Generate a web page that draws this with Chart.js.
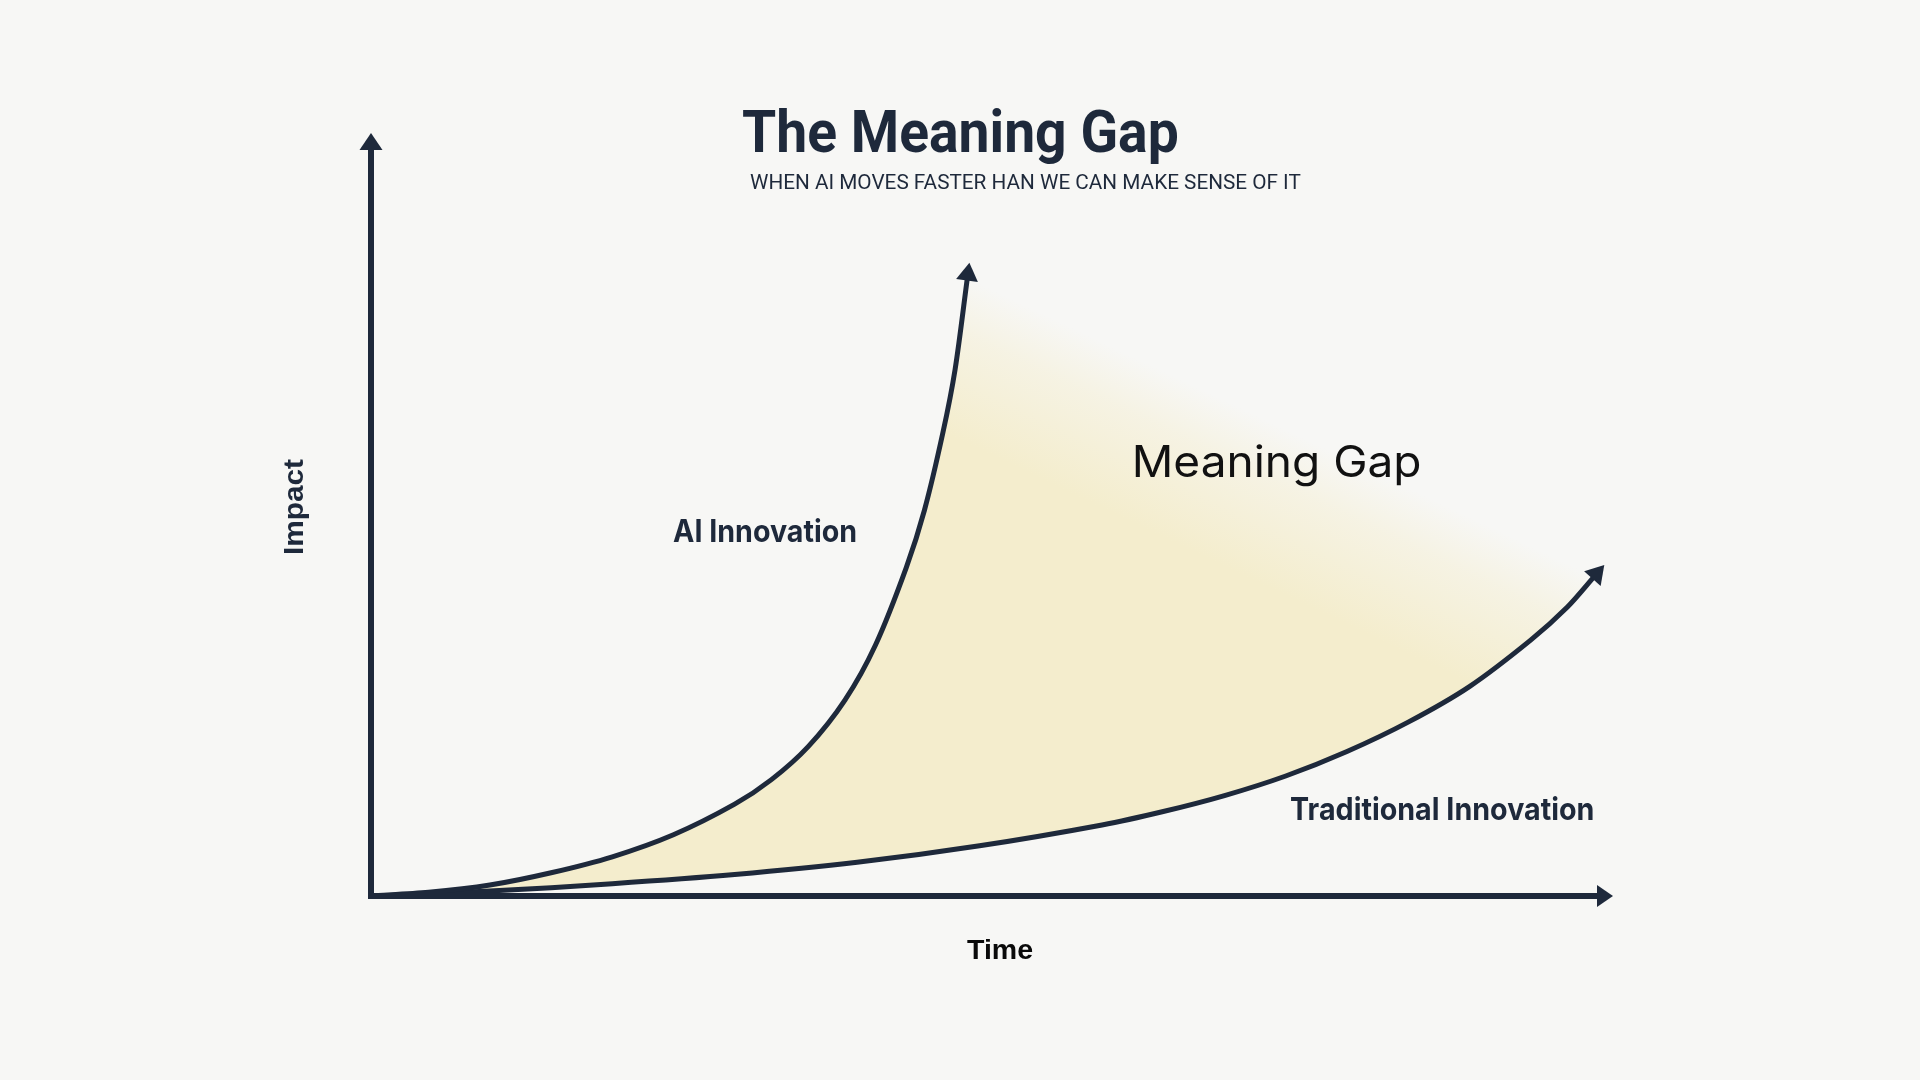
<!DOCTYPE html>
<html>
<head>
<meta charset="utf-8">
<title>The Meaning Gap</title>
<script src="https://cdn.jsdelivr.net/npm/chart.js@4.4.1/dist/chart.umd.min.js"></script>
<style>
  html, body { margin: 0; padding: 0; background: #f7f7f5; }
  canvas { display: block; }
</style>
</head>
<body>
<canvas id="chart" width="1920" height="1080"></canvas>
<script>
// ---------------- DATA ----------------
const timeAI      = [0, 4.64, 9.57, 14.50, 19.43, 24.35, 29.28, 32.24, 35.20, 38.16, 40.62, 43.09, 44.56, 46.04, 47.03, 48.02];
const impactAI    = [0, 0.48, 1.44,  3.05,  5.14,  8.03, 12.04, 15.25, 19.58, 25.68, 32.90, 43.01, 50.56, 60.67, 69.02, 81.05];
const timeTrad    = [0, 9.57, 19.43, 29.28, 39.14, 49.00, 58.86, 63.79, 68.72, 73.65, 78.58, 83.51, 88.44, 93.37, 96.33, 98.50];
const impactTrad  = [0, 0.64,  1.61,  2.81,  4.41,  6.58,  9.31, 11.07, 13.16, 15.73, 18.94, 22.79, 27.45, 33.54, 37.88, 41.89];
const timeRange   = [0, 100];
const impactRange = [0, 100];
const seriesNames = ['AI Innovation', 'Traditional Innovation'];
const gapName     = 'Meaning Gap';
const titleText   = 'The Meaning Gap';
const subtitleText = 'WHEN AI MOVES FASTER HAN WE CAN MAKE SENSE OF IT';
const xAxisTitle  = 'Time';
const yAxisTitle  = 'Impact';

// ---------------- STYLE ----------------
const NAVY = '#1e293b';
const BG = '#f7f7f5';
const FILL_RGB = '244,237,205';
const TENSION = 0.3;

const aiPts   = timeAI.map((t, i) => ({ x: t, y: impactAI[i] }));
const tradPts = timeTrad.map((t, i) => ({ x: t, y: impactTrad[i] }));
// closed region: AI curve, straight edge to the traditional end, traditional curve back
// (end points repeated so the smoothing matches the drawn lines exactly)
const gapPts  = aiPts.concat([aiPts[aiPts.length - 1], tradPts[tradPts.length - 1]], tradPts.slice().reverse());

function gapGradient(context) {
  const chart = context.chart;
  const area = chart.chartArea;
  if (!area) return 'rgba(' + FILL_RGB + ',1)';
  const xs = chart.scales.x, ys = chart.scales.y;
  const a = aiPts[aiPts.length - 1], b = tradPts[tradPts.length - 1];
  const ax = xs.getPixelForValue(a.x), ay = ys.getPixelForValue(a.y);
  const bx = xs.getPixelForValue(b.x), by = ys.getPixelForValue(b.y);
  const mx = (ax + bx) / 2, my = (ay + by) / 2;
  let nx = -(by - ay), ny = (bx - ax);
  const len = Math.hypot(nx, ny); nx /= len; ny /= len;
  const span = 150;
  const g = chart.ctx.createLinearGradient(mx, my, mx + nx * span, my + ny * span);
  g.addColorStop(0, 'rgba(' + FILL_RGB + ',0)');
  g.addColorStop(0.35, 'rgba(' + FILL_RGB + ',0.45)');
  g.addColorStop(1, 'rgba(' + FILL_RGB + ',1)');
  return g;
}

// text helper: fit to ink box (cap height + width)
function drawFit(ctx, text, o) {
  ctx.save();
  ctx.font = o.weight + ' 100px ' + o.family;
  const capR = ctx.measureText('H').actualBoundingBoxAscent / 100;
  const size = o.cap / capR;
  ctx.font = o.weight + ' ' + size.toFixed(2) + 'px ' + o.family;
  const m = ctx.measureText(text);
  const ink = m.actualBoundingBoxLeft + m.actualBoundingBoxRight;
  const sx = (o.right - o.left) / ink;
  ctx.translate(o.left + m.actualBoundingBoxLeft * sx, o.baseline);
  ctx.scale(sx, 1);
  ctx.fillStyle = o.color;
  ctx.textAlign = 'left';
  ctx.textBaseline = 'alphabetic';
  ctx.fillText(text, 0, 0);
  ctx.restore();
}

const bgPlugin = {
  id: 'bg',
  beforeDraw(chart) {
    const c = chart.ctx;
    c.save(); c.fillStyle = BG; c.fillRect(0, 0, chart.width, chart.height); c.restore();
  }
};

function arrowHead(c, tipX, tipY, ux, uy, L, W) {
  const bx = tipX - ux * L, by = tipY - uy * L;
  const px = -uy, py = ux;
  c.beginPath();
  c.moveTo(tipX, tipY);
  c.lineTo(bx + px * W / 2, by + py * W / 2);
  c.lineTo(bx - px * W / 2, by - py * W / 2);
  c.closePath();
  c.fill();
}

const axesPlugin = {
  id: 'axesArrows',
  afterDatasetsDraw(chart) {
    const c = chart.ctx;
    const xs = chart.scales.x, ys = chart.scales.y;
    const x0 = xs.getPixelForValue(timeRange[0]);
    const x1 = xs.getPixelForValue(timeRange[1]);
    const y0 = ys.getPixelForValue(impactRange[0]);
    const y1 = ys.getPixelForValue(impactRange[1]);
    c.save();
    c.strokeStyle = NAVY; c.fillStyle = NAVY;
    c.lineWidth = 6; c.lineJoin = 'miter'; c.lineCap = 'butt';
    c.beginPath();
    c.moveTo(x0, y1 + 14);
    c.lineTo(x0, y0);
    c.lineTo(x1 - 14, y0);
    c.stroke();
    arrowHead(c, x0, y1, 0, -1, 17, 23);
    arrowHead(c, x1, y0, 1, 0, 16, 22);
    // curve arrowheads
    [1, 2].forEach(di => {
      const pts = chart.getDatasetMeta(di).data;
      const last = pts[pts.length - 1], prev = pts[pts.length - 2];
      let dx = last.x - prev.x, dy = last.y - prev.y;
      const l = Math.hypot(dx, dy); dx /= l; dy /= l;
      arrowHead(c, last.x + dx * 15, last.y + dy * 15, dx, dy, 18, 22);
    });
    c.restore();
  }
};

const textPlugin = {
  id: 'texts',
  afterDraw(chart) {
    const c = chart.ctx;
    drawFit(c, titleText, { left: 743, right: 1177, baseline: 152, cap: 42, weight: '700', family: 'Roboto', color: NAVY });
    drawFit(c, subtitleText, { left: 750, right: 1301, baseline: 189, cap: 14.3, weight: '400', family: 'Roboto', color: NAVY });
    drawFit(c, seriesNames[0], { left: 673, right: 856, baseline: 542, cap: 22.5, weight: '700', family: 'Inter', color: NAVY });
    drawFit(c, seriesNames[1], { left: 1291, right: 1593, baseline: 820, cap: 23, weight: '700', family: 'Inter', color: NAVY });
    drawFit(c, gapName, { left: 1135, right: 1420, baseline: 477, cap: 31.5, weight: '400', family: 'Inter', color: '#111111' });
    drawFit(c, xAxisTitle, { left: 967, right: 1033, baseline: 959, cap: 19, weight: '700', family: '"Liberation Sans"', color: '#0a0a0a' });
    c.save();
    c.translate(302.5, 506.5);
    c.rotate(-Math.PI / 2);
    drawFit(c, yAxisTitle, { left: -47.5, right: 47.5, baseline: 0, cap: 19, weight: '700', family: '"Liberation Sans"', color: NAVY });
    c.restore();
  }
};

new Chart(document.getElementById('chart'), {
  type: 'line',
  data: {
    datasets: [
      {
        label: gapName,
        data: gapPts,
        order: 5,
        borderWidth: 0,
        borderColor: 'rgba(0,0,0,0)',
        pointRadius: 0,
        tension: TENSION,
        fill: 'shape',
        backgroundColor: gapGradient
      },
      {
        label: seriesNames[0],
        data: aiPts,
        order: 1,
        borderColor: NAVY,
        borderWidth: 5,
        pointRadius: 0,
        tension: TENSION,
        fill: false
      },
      {
        label: seriesNames[1],
        data: tradPts,
        order: 1,
        borderColor: NAVY,
        borderWidth: 5,
        pointRadius: 0,
        tension: TENSION,
        fill: false
      }
    ]
  },
  options: {
    responsive: false,
    animation: false,
    layout: { padding: { left: 371, right: 307, top: 133, bottom: 184 } },
    scales: {
      x: { type: 'linear', display: false, min: timeRange[0], max: timeRange[1] },
      y: { type: 'linear', display: false, min: impactRange[0], max: impactRange[1] }
    },
    plugins: {
      legend: { display: false },
      tooltip: { enabled: false },
      title: { display: false }
    },
    elements: { line: { capBezierPoints: true } }
  },
  plugins: [bgPlugin, axesPlugin, textPlugin]
});
</script>
</body>
</html>
